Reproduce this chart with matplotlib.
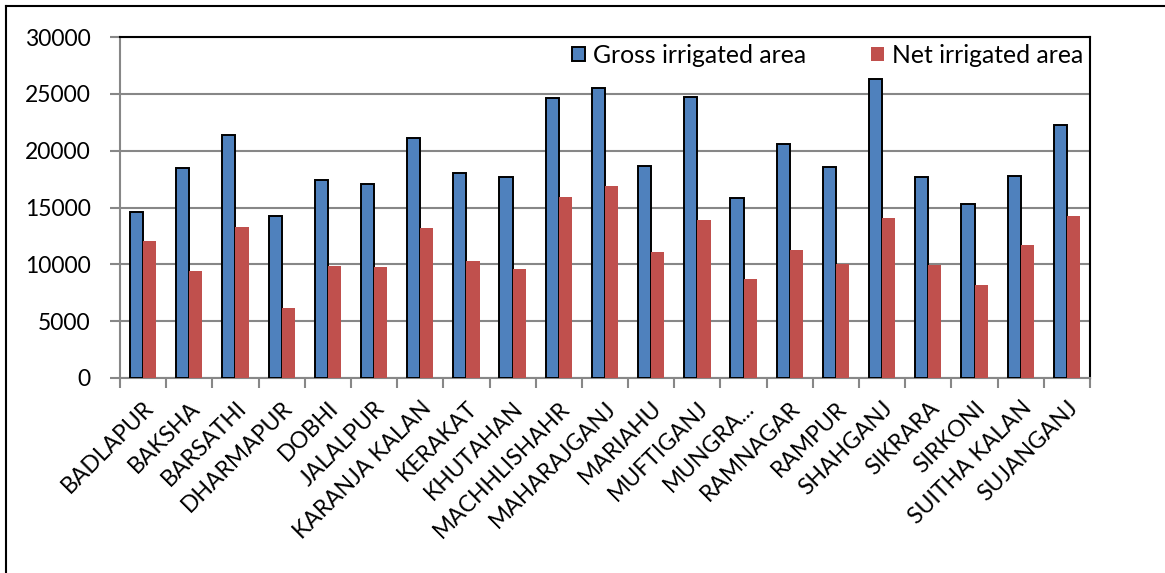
import matplotlib
matplotlib.use("Agg")
import matplotlib.pyplot as plt
from matplotlib.lines import Line2D
import numpy as np

plt.rcParams['font.family'] = ['Lato', 'DejaVu Sans']

blocks = ["BADLAPUR", "BAKSHA", "BARSATHI", "DHARMAPUR", "DOBHI", "JALALPUR",
          "KARANJA KALAN", "KERAKAT", "KHUTAHAN", "MACHHLISHAHR", "MAHARAJGANJ",
          "MARIAHU", "MUFTIGANJ", "MUNGRA...", "RAMNAGAR", "RAMPUR", "SHAHGANJ",
          "SIKRARA", "SIRKONI", "SUITHA KALAN", "SUJANGANJ"]
gross_irrigated = [14600, 18500, 21400, 14240, 17450, 17100, 21100, 18000, 17650,
                   24600, 25500, 18620, 24720, 15820, 20570, 18530, 26290, 17650,
                   15320, 17740, 22260]
net_irrigated = [12050, 9420, 13280, 6190, 9830, 9750, 13220, 10270, 9600,
                 15930, 16900, 11120, 13860, 8700, 11290, 10070, 14090, 9950,
                 8200, 11670, 14210]
y_ticks = [0, 5000, 10000, 15000, 20000, 25000, 30000]

blue = "#4F81BD"
red = "#C0504D"
grid_gray = "#878787"

fig = plt.figure(figsize=(11.65, 5.73), dpi=100)
ax = fig.add_axes([120 / 1165, 1 - 378 / 573, 970 / 1165, 341 / 573])

x = np.arange(len(blocks))
w = 0.285
ax.bar(x - w / 2, gross_irrigated, width=w, color=blue, edgecolor="black",
       linewidth=1.4, label="Gross irrigated area", zorder=3)
ax.bar(x + w / 2, net_irrigated, width=w, color=red, edgecolor="none",
       label="Net irrigated area", zorder=3)

ax.set_xlim(-0.5, len(blocks) - 0.5)
ax.set_ylim(0, 30000)
ax.set_yticks(y_ticks)
ax.set_yticklabels([str(v) for v in y_ticks], fontsize=16.5)
ax.yaxis.grid(True, color=grid_gray, linewidth=1.5, zorder=0)
ax.set_axisbelow(True)

ax.set_xticks(np.arange(-0.5, len(blocks), 1.0), minor=False)
ax.set_xticklabels([])
ax.set_xticks(x, minor=True)
ax.set_xticklabels(blocks, minor=True, rotation=45, ha="right",
                   rotation_mode="anchor", fontsize=16.5)
ax.tick_params(axis="x", which="minor", length=0, pad=14)
ax.tick_params(axis="x", which="major", length=7, width=1.5, color=grid_gray,
               direction="out")
ax.tick_params(axis="y", length=7, width=1.5, color=grid_gray, direction="out",
               pad=14)

for side in ("left", "bottom"):
    ax.spines[side].set_color(grid_gray)
    ax.spines[side].set_linewidth(1.5)
for side in ("top", "right"):
    ax.spines[side].set_color("black")
    ax.spines[side].set_linewidth(1.5)

ax.legend(loc="upper right", bbox_to_anchor=(1.008, 1.024), ncol=2, frameon=False,
          fontsize=17.8, handlelength=0.53, handleheight=0.53, handletextpad=0.32,
          columnspacing=2.6, borderaxespad=0.2)

# chart area frame (top and left edges)
fig.add_artist(Line2D([6 / 1165, 1.0], [1 - 6 / 573, 1 - 6 / 573],
                      transform=fig.transFigure, color="black", linewidth=1.5))
fig.add_artist(Line2D([6 / 1165, 6 / 1165], [0.0, 1 - 6 / 573],
                      transform=fig.transFigure, color="black", linewidth=1.5))

fig.savefig("out.png", dpi=100, facecolor="white")
